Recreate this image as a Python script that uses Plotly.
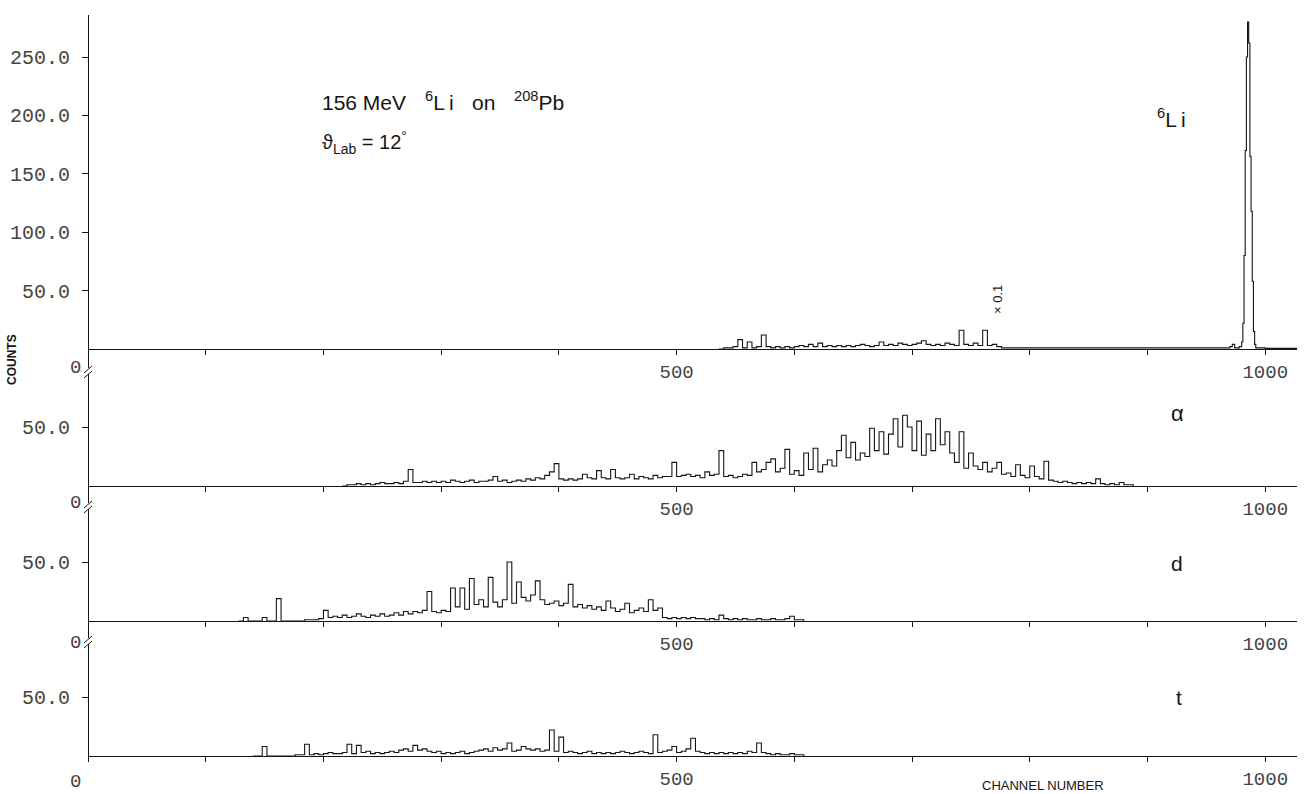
import numpy as np
import plotly.graph_objects as go

# ---------------- data (counts) ----------------
# 6Li panel: low-energy part, 4-channel steps starting at channel 536
li_start = 536
li_low_counts = [0, 1, 1, 2, 8, 1, 6, 1, 2, 12,
                 2, 1, 2, 1, 2, 1, 2, 3, 2, 4,
                 2, 5, 2, 3, 2, 3, 2, 3, 2, 3,
                 4, 3, 2, 3, 6, 3, 4, 3, 5, 4,
                 3, 4, 5, 7, 4, 3, 4, 3, 5, 4,
                 3, 16, 4, 3, 5, 3, 16, 3, 4, 2,
                 1, 1]
# 6Li elastic peak region (explicit channels)
li_peak_channels = [790, 830, 870, 910, 950, 966, 970, 972, 974, 978, 980, 981, 982, 983,
                    984, 985, 986, 987, 988, 989, 990, 991, 992, 1000, 1027]
li_peak_counts = [1, 1, 1, 1, 1, 1, 2, 4, 1, 2, 6, 22, 80, 170,
                  250, 280, 262, 165, 118, 58, 15, 4, 1, 0.5, 0.5]

# alpha panel, 4-channel steps starting at channel 216
alpha_start = 216
alpha_counts = [0, 1, 1, 2, 1, 2, 1, 2, 3, 2,
                2, 3, 2, 4, 14, 3, 3, 4, 3, 4,
                3, 4, 3, 5, 4, 3, 4, 5, 3, 4,
                4, 5, 8, 4, 5, 3, 4, 5, 4, 6,
                5, 7, 6, 9, 12, 19, 6, 5, 6, 5,
                6, 10, 7, 6, 13, 7, 6, 14, 7, 6,
                7, 10, 6, 8, 7, 6, 9, 7, 8, 8,
                20, 8, 9, 10, 8, 9, 7, 12, 9, 10,
                30, 8, 9, 7, 8, 10, 9, 20, 12, 14,
                20, 23, 12, 15, 31, 10, 13, 9, 28, 14,
                32, 12, 18, 22, 17, 30, 43, 24, 37, 22,
                28, 25, 49, 30, 46, 27, 44, 57, 33, 60,
                50, 30, 55, 26, 44, 30, 57, 35, 46, 28,
                20, 46, 15, 28, 17, 14, 20, 12, 15, 20,
                10, 11, 8, 18, 9, 7, 17, 8, 6, 21,
                5, 4, 3, 4, 3, 2, 3, 2, 3, 2,
                6, 2, 1, 2, 1, 3, 1, 1, 0]

# deuteron panel, 4-channel steps starting at channel 128
d_start = 128
d_counts = [0, 3, 0, 0, 0, 3, 0, 0, 19, 0,
            0, 0, 0, 0, 1, 1, 1, 2, 9, 3,
            4, 3, 5, 3, 4, 6, 4, 3, 5, 4,
            6, 4, 5, 7, 5, 8, 6, 8, 7, 9,
            25, 8, 7, 9, 8, 28, 12, 28, 10, 36,
            14, 18, 12, 37, 16, 12, 18, 50, 15, 33,
            20, 17, 22, 34, 18, 14, 15, 17, 13, 15,
            31, 12, 14, 11, 13, 10, 12, 9, 17, 11,
            8, 10, 15, 7, 9, 11, 8, 18, 9, 11,
            3, 2, 3, 2, 3, 2, 3, 2, 2, 1,
            2, 1, 5, 2, 1, 2, 1, 2, 1, 1,
            2, 1, 1, 2, 1, 1, 2, 4, 1, 1,
            0]

# triton panel, 4-channel steps starting at channel 140
t_start = 140
t_counts = [0, 0, 8, 0, 0, 0, 0, 0, 0, 1,
            1, 10, 1, 2, 1, 2, 3, 2, 2, 3,
            10, 2, 9, 3, 4, 2, 3, 2, 3, 4,
            3, 5, 6, 4, 9, 5, 6, 4, 3, 4,
            2, 3, 2, 3, 4, 2, 3, 4, 5, 6,
            4, 7, 5, 6, 11, 4, 5, 8, 6, 5,
            6, 4, 5, 22, 4, 16, 3, 4, 3, 2,
            3, 4, 2, 3, 2, 3, 2, 3, 4, 3,
            2, 3, 4, 3, 2, 18, 3, 4, 5, 8,
            3, 4, 6, 15, 4, 3, 2, 3, 2, 3,
            2, 3, 2, 3, 2, 4, 3, 11, 3, 2,
            1, 2, 1, 1, 2, 1, 1, 0]

x_ticks = [0, 100, 200, 300, 400, 500, 600, 700, 800, 900, 1000]
x_ticktext = ["", "", "", "", "", "500", "", "", "", "", "1000"]
top_yticks = [50, 100, 150, 200, 250]
top_yticktext = ["50.0", "100.0", "150.0", "200.0", "250.0"]
low_yticks = [50]
low_yticktext = ["50.0"]

# ---------------- build channel axes ----------------
def chans(start, n):
    return start + 4 * np.arange(n)

li_x = list(chans(li_start, len(li_low_counts))) + li_peak_channels
li_y = li_low_counts + li_peak_counts

series = [
    (li_x, li_y),
    (list(chans(alpha_start, len(alpha_counts))), alpha_counts),
    (list(chans(d_start, len(d_counts))), d_counts),
    (list(chans(t_start, len(t_counts))), t_counts),
]

# ---------------- layout geometry (pixels -> paper) ----------------
W, H = 1310, 794
ML, MR = 88, 13
PW = W - ML - MR


def px(xp):
    return (xp - ML) / PW


def py(yp):
    return 1 - yp / H

# panel: (top px, bottom px, zero px, px per count)
panels = [
    (15, 368, 349, 1.168),
    (374, 503, 486, 1.18),
    (509, 638, 621, 1.18),
    (644, 760, 756, 1.18),
]

fig = go.Figure()
INK = "#151515"
mono = "Liberation Mono"
sans = "Liberation Sans"

for i, ((xs, ys), (top, bot, zero, s)) in enumerate(zip(series, panels)):
    k = "" if i == 0 else str(i + 1)
    fig.add_trace(go.Scatter(x=xs, y=ys, mode="lines", line=dict(color=INK, width=1.1, shape="hv"),
                             xaxis="x" + k, yaxis="y" + k, showlegend=False, hoverinfo="skip"))
    yr = [-(bot - zero) / s, (zero - top) / s]
    ytv = top_yticks if i == 0 else low_yticks
    ytt = top_yticktext if i == 0 else low_yticktext
    fig.layout["yaxis" + k] = dict(domain=[py(bot), py(top)], range=yr, anchor="free", position=0,
                                   showline=True, linecolor=INK, linewidth=1, ticks="outside", ticklen=6,
                                   tickcolor=INK, tickvals=ytv, ticktext=ytt, showgrid=False, zeroline=False,
                                   automargin=False,
                                   tickfont=dict(family=mono, size=20, color="#444"), ticklabelstandoff=8)
    fig.layout["xaxis" + k] = dict(range=[0, 1027], anchor="free", position=py(zero), showline=True,
                                   linecolor=INK, linewidth=1.2, ticks="outside", ticklen=5, tickcolor=INK,
                                   tickvals=x_ticks, ticktext=x_ticktext, showgrid=False, zeroline=False,
                                   automargin=False,
                                   tickfont=dict(family=mono, size=19, color="#444"))

ann = []


def text(x, y, t, size=20, family=sans, anchor="left", angle=0, color=INK):
    ann.append(dict(x=px(x), y=py(y), xref="paper", yref="paper", text=t, showarrow=False,
                    xanchor=anchor, yanchor="middle", textangle=angle,
                    font=dict(family=family, size=size, color=color)))

# zero labels at the axis breaks and the bottom axis origin
for yy in (368, 503, 643, 782):
    text(75, yy, "0", size=19, family=mono, anchor="center", color="#444")

text(320, 103, "156 MeV", size=21)
text(423, 101, "<sup>6</sup>L\u2009i", size=21)
text(470, 103, "on", size=21)
text(512, 101, "<sup>208</sup>Pb", size=21)
text(320, 142, "\u03d1<sub>Lab</sub> = 12<sup>\u00b0</sup>", size=20)
text(1155, 118, "<sup>6</sup>L\u2009i", size=21)
text(997, 300, "\u00d7 0.1", size=13, anchor="center", angle=-90)
text(1177, 413, "\u03b1", size=22, anchor="center")
text(1177, 563, "d", size=21, anchor="center")
text(1179, 697, "t", size=21, anchor="center")
text(12, 360, "<b>COUNTS</b>", size=12, anchor="center", angle=-90)
text(1043, 785, "CHANNEL NUMBER", size=13, anchor="center")

shapes = []
for g in (368, 503, 638):
    for off in (0, 5):
        shapes.append(dict(type="line", xref="paper", yref="paper",
                           x0=px(84), y0=py(g + 5 + off), x1=px(92), y1=py(g - 2 + off),
                           line=dict(color=INK, width=1)))

fig.update_layout(width=W, height=H, margin=dict(l=ML, r=MR, t=0, b=0, autoexpand=False),
                  paper_bgcolor="white", plot_bgcolor="white",
                  annotations=ann, shapes=shapes, hovermode=False)

fig.write_html("out.html", config={"displayModeBar": False},
               post_script="document.body.style.margin='0';document.body.style.overflow='hidden';")
